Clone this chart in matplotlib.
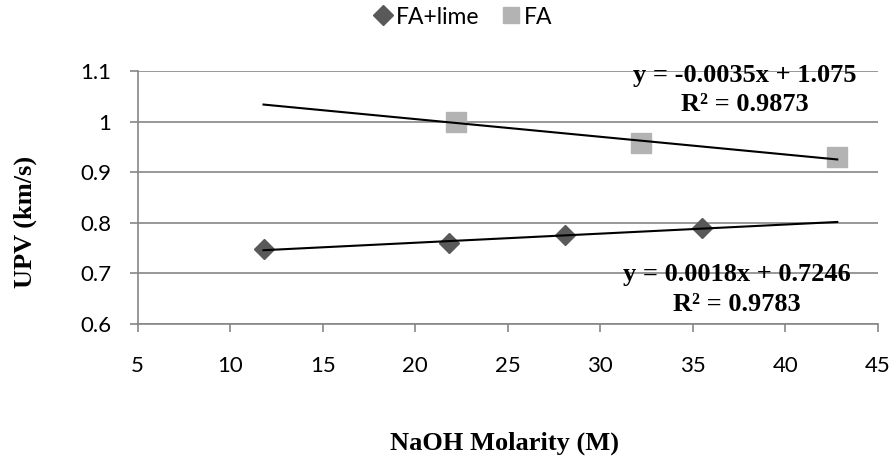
import matplotlib.pyplot as plt

# data
lime_x = [11.8, 21.8, 28.1, 35.5]
lime_y = [0.748, 0.761, 0.776, 0.790]
fa_x = [22.2, 32.2, 42.8]
fa_y = [1.000, 0.958, 0.930]

# Excel-style linear trendlines (coefficients as printed on the chart)
lime_fit = (0.0018, 0.7246)
fa_fit = (-0.0035, 1.075)
trend_range = [11.8, 42.8]

lime_eq = "y = 0.0018x + 0.7246"
lime_r2 = "R² = 0.9783"
fa_eq = "y = -0.0035x + 1.075"
fa_r2 = "R² = 0.9873"

grid_col = "#868686"
serif = dict(family="Liberation Serif", fontweight="bold", fontsize=19)

fig = plt.figure(figsize=(8.91, 4.59), dpi=100)
ax = fig.add_axes([0.1545, 0.2941, 0.8309, 0.5512])

ax.set_xlim(5, 45)
ax.set_ylim(0.6, 1.1)
ax.set_xticks(range(5, 50, 5))
ax.set_yticks([0.6, 0.7, 0.8, 0.9, 1.0, 1.1])
ax.set_yticklabels(["0.6", "0.7", "0.8", "0.9", "1", "1.1"])

ax.grid(axis="y", color=grid_col, linewidth=1.2)
ax.set_axisbelow(True)
for s in ["top", "right"]:
    ax.spines[s].set_visible(False)
for s in ["left", "bottom"]:
    ax.spines[s].set_color(grid_col)
    ax.spines[s].set_linewidth(1.2)
ax.tick_params(axis="both", direction="out", length=6, width=1.2, color=grid_col,
               labelsize=16, labelcolor="black")
ax.tick_params(axis="x", pad=17)
ax.tick_params(axis="y", pad=13)
for lab in ax.get_xticklabels() + ax.get_yticklabels():
    lab.set_family("Lato")

ax.plot(lime_x, lime_y, linestyle="none", marker="D", markersize=10.5,
        color="#595959", label="FA+lime", zorder=3)
ax.plot(fa_x, fa_y, linestyle="none", marker="s", markersize=14,
        color="#b3b3b3", label="FA", zorder=3)

for (m, b) in [lime_fit, fa_fit]:
    ys = [m * x + b for x in trend_range]
    ax.plot(trend_range, ys, color="black", linewidth=1.5, zorder=4)

# trendline labels, two centred lines each
ax.text(37.8, 1.092, fa_eq, ha="center", va="center", zorder=5, **serif)
ax.text(37.8, 1.033, fa_r2, ha="center", va="center", zorder=5, **serif)
ax.text(37.35, 0.697, lime_eq, ha="center", va="center", zorder=5, **serif)
ax.text(37.35, 0.638, lime_r2, ha="center", va="center", zorder=5, **serif)

fig.text(0.028, 0.516, "UPV (km/s)", rotation=90, ha="center", va="center", **serif)
fig.text(505 / 891, 0.035, "NaOH Molarity (M)", ha="center", va="center", **serif)

leg = fig.legend(loc="center", bbox_to_anchor=(462 / 891, 1 - 17 / 459), ncol=2,
                 frameon=False, handletextpad=0.05, columnspacing=0.9,
                 handlelength=1.0, prop={"family": "Lato", "size": 16.5})
sizes = [10, 12]
for h, ms in zip(leg.legend_handles, sizes):
    h.set_markersize(ms)

fig.savefig("out.png", dpi=100)
